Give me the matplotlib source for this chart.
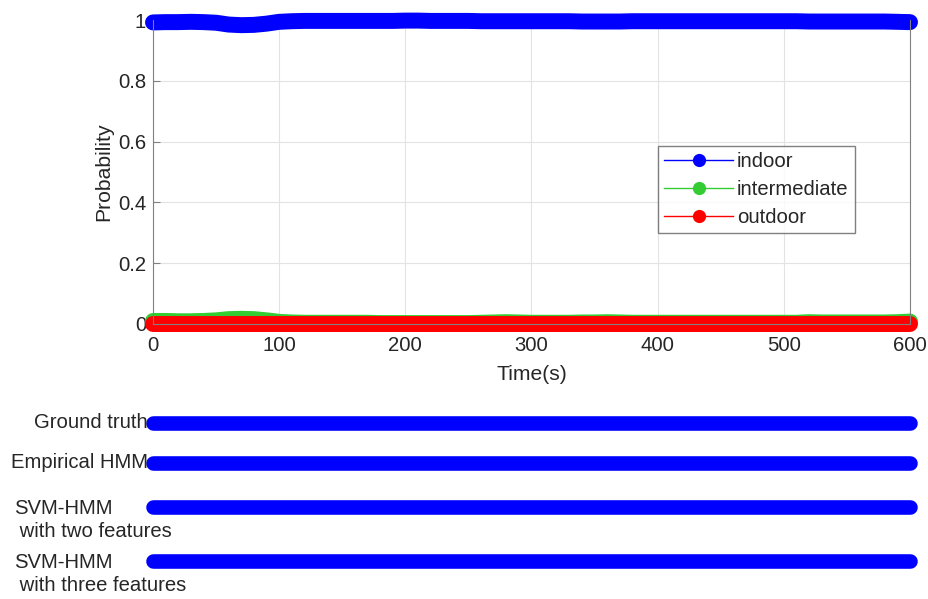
import matplotlib
matplotlib.use("Agg")
import matplotlib.pyplot as plt
from matplotlib.lines import Line2D

plt.rcParams['font.family'] = ['Liberation Sans', 'DejaVu Sans']

# Time axis (s), sampled every 10 s
time_s = list(range(0, 601, 10))

p_indoor = [0.992, 0.993, 0.993, 0.994, 0.993, 0.991, 0.985, 0.983, 0.984, 0.988,
            0.994, 0.996, 0.997, 0.997, 0.997, 0.997, 0.997, 0.997, 0.997, 0.997,
            0.998, 0.998, 0.997, 0.997, 0.997, 0.997, 0.996, 0.996, 0.996, 0.996,
            0.996, 0.996, 0.996, 0.996, 0.995, 0.995, 0.995, 0.995, 0.996, 0.996,
            0.996, 0.996, 0.996, 0.996, 0.996, 0.996, 0.996, 0.996, 0.996, 0.996,
            0.996, 0.996, 0.995, 0.995, 0.995, 0.995, 0.995, 0.995, 0.995, 0.994,
            0.993]
p_intermediate = [0.010, 0.010, 0.009, 0.009, 0.010, 0.012, 0.016, 0.017, 0.016, 0.012,
                  0.007, 0.005, 0.004, 0.004, 0.004, 0.004, 0.004, 0.004, 0.003, 0.003,
                  0.003, 0.003, 0.003, 0.003, 0.003, 0.003, 0.004, 0.005, 0.006, 0.005,
                  0.004, 0.004, 0.004, 0.004, 0.005, 0.005, 0.006, 0.005, 0.004, 0.004,
                  0.004, 0.004, 0.004, 0.004, 0.004, 0.004, 0.004, 0.004, 0.004, 0.004,
                  0.004, 0.004, 0.006, 0.005, 0.005, 0.005, 0.005, 0.005, 0.005, 0.006,
                  0.008]
p_outdoor = [0.001] * 61

# Predicted environment per method (all indoor over the run)
method_labels = ["Ground truth", "Empirical HMM",
                 "SVM-HMM\n with two features", "SVM-HMM\n with three features"]
method_states = [["indoor"] * 61 for _ in range(4)]

colors = {"indoor": "#0000ff", "intermediate": "#33cc33", "outdoor": "#ff0000"}
txt = "#262626"
fs = 14.6

fig = plt.figure(figsize=(9.29, 5.99), dpi=100)
ax = fig.add_axes([153 / 929, 1 - 324 / 599, (910 - 153) / 929, (324 - 20) / 599])

# Dense circle markers merge into a thick band along each series
band = 11.5
for vals, name in [(p_indoor, "indoor"), (p_intermediate, "intermediate"),
                   (p_outdoor, "outdoor")]:
    ax.plot(time_s, vals, '-', color=colors[name], lw=band,
            solid_capstyle="round", solid_joinstyle="round", clip_on=False)

ax.set_xlim(0, 600)
ax.set_ylim(0, 1)
ax.set_xticks(range(0, 601, 100))
ax.set_yticks([0, 0.2, 0.4, 0.6, 0.8, 1])
ax.set_yticklabels(["0", "0.2", "0.4", "0.6", "0.8", "1"])
ax.grid(True, color="#e3e3e3", lw=0.8)
ax.set_axisbelow(True)
for s in ["left", "bottom", "right"]:
    ax.spines[s].set_color("#808080")
ax.spines["top"].set_visible(False)
ax.tick_params(direction="in", length=5, color="#808080", labelsize=fs,
               labelcolor=txt, top=False, right=False)
ax.tick_params(axis="x", pad=9)
ax.tick_params(axis="y", pad=5)
ax.set_xlabel("Time(s)", fontsize=15.2, color=txt, labelpad=7)
ax.set_ylabel("Probability", fontsize=15.2, color=txt, labelpad=3)

handles = [Line2D([], [], color=colors[n], lw=1, marker="o", ms=9.5,
                  markeredgewidth=0) for n in ["indoor", "intermediate", "outdoor"]]
leg = ax.legend(handles, ["indoor", "intermediate", "outdoor"],
                loc="upper left",
                bbox_to_anchor=((658 - 153) / 757, (324 - 146) / 304),
                fontsize=fs, frameon=True, fancybox=False,
                handlelength=3.4, borderpad=0.3, labelspacing=0.45,
                handletextpad=0.2, borderaxespad=0)
leg.get_frame().set_edgecolor("#606060")
leg.get_frame().set_linewidth(1.0)
for t in leg.get_texts():
    t.set_color(txt)

# Lower panel: state sequence of each method, one bar per run of equal states
ax2 = fig.add_axes([153 / 929, 0, (910 - 153) / 929, 1.0])
ax2.set_xlim(0, 600)
ax2.set_ylim(599, 0)
ax2.axis("off")
row_y = [423, 463, 507, 561]
for y, states in zip(row_y, method_states):
    start = 0
    for i in range(1, len(states) + 1):
        if i == len(states) or states[i] != states[start]:
            end = min(i, len(states) - 1)
            ax2.plot([time_s[start], time_s[end]], [y, y], '-',
                     color=colors[states[start]], lw=10.5,
                     solid_capstyle="round", clip_on=False)
            start = i

fig.text(148 / 929, 1 - 423 / 599, method_labels[0], ha="right", va="center",
         fontsize=fs, color=txt)
fig.text(148 / 929, 1 - 463 / 599, method_labels[1], ha="right", va="center",
         fontsize=fs, color=txt)
for lab, yy in [(method_labels[2], 499), (method_labels[3], 553)]:
    fig.text(14 / 929, 1 - yy / 599, lab, ha="left", va="top", fontsize=fs,
             color=txt, linespacing=1.25)

fig.savefig("out.png", dpi=100)
